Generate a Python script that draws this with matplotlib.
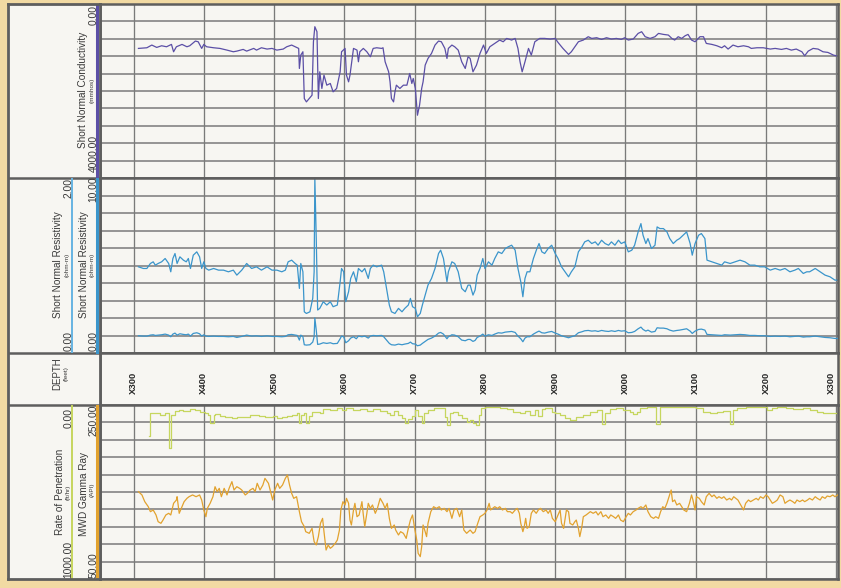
import numpy as np
import matplotlib
matplotlib.use("Agg")
import matplotlib.pyplot as plt

plt.rcParams['font.family'] = ['Liberation Sans', 'DejaVu Sans']

# depth axis (feet, "X" = hidden leading digit)
depth_ticks = list(range(300, 1301, 100))
depth_labels = ["X%03d" % (d % 1000) for d in depth_ticks]

# Short Normal Conductivity (mmhos)
cond_depth = [307, 319, 326, 333, 340, 347, 354, 357, 361, 369, 376, 380, 388, 392, 397, 400, 404, 414,
              423, 433, 442, 447, 456, 461, 471, 475, 482, 490, 497, 504, 513, 518, 525, 530, 535, 536,
              538, 541, 543, 546, 550, 554, 556, 558, 561, 563, 565, 568, 571, 575, 580, 584, 589, 594,
              596, 601, 603, 606, 608, 613, 618, 620, 622, 627, 632, 637, 641, 646, 653, 655, 658, 663,
              665, 667, 670, 672, 674, 679, 684, 689, 693, 696, 698, 701, 704, 707, 710, 712, 715, 719,
              724, 729, 734, 738, 743, 746, 748, 753, 757, 762, 767, 772, 776,
              779, 783, 788, 793, 798, 802, 807, 814, 821, 826, 831, 838, 843, 847, 850, 853, 857, 862,
              866, 871, 878, 885, 893, 900, 904, 911, 919, 923, 928, 933, 940, 947, 952, 959, 966, 973,
              980, 987, 994, 999, 1004, 1011, 1018, 1023, 1028, 1035, 1042, 1047, 1054, 1061, 1066, 1070,
              1075, 1080, 1085, 1089, 1094, 1099, 1106, 1111, 1115, 1123, 1130, 1137, 1141, 1146, 1153,
              1160, 1168, 1175, 1179, 1187, 1196, 1206, 1213, 1222, 1229, 1236, 1243, 1251, 1255, 1260,
              1267, 1274, 1281, 1288, 1296, 1300]
cond_val = [1021, 1006, 944, 998, 960, 983, 929, 1098, 983, 929, 983, 960, 852, 868, 1021, 929, 983, 1006,
            1021, 1060, 1098, 1083, 1044, 1083, 1021, 1060, 1006, 1036, 1021, 1060, 1036, 983, 944, 983, 1021, 1482,
            1175, 1098, 2173, 2250, 2173, 2096, 868, 522, 637, 2173, 1559, 1942, 1635, 1866, 1827, 2019, 1942, 1559,
            1098, 1021, 1635, 1789, 1635, 1021, 1060, 1328, 1098, 1021, 1098, 1213, 1021, 1006, 1021, 1006, 1328, 1559,
            1789, 2173, 2250, 2019, 1866, 1942, 1866, 1866, 1597, 1827, 1712, 1942, 2557, 2326, 1942, 1789, 1405, 1252,
            1136, 944, 852, 868, 1021, 1252, 1021, 944, 983, 1060, 1328, 1482, 1213,
            1252, 1559, 1405, 1136, 944, 1136, 983, 906, 829, 868, 791, 829, 791, 1021, 1328, 1559, 1328, 1021,
            1175, 868, 791, 791, 806, 791, 883, 1021, 1159, 1098, 983, 868, 829, 752, 791, 775, 814, 775,
            806, 791, 814, 775, 829, 806, 676, 637, 752, 791, 752, 676, 699, 714, 791, 829,
            752, 791, 729, 699, 829, 868, 752, 752, 906, 929, 960, 1006, 960, 1036, 944,
            983, 960, 983, 1021, 1006, 1006, 1036, 1021, 1044, 1021, 1060, 1036, 1098, 1190, 1083,
            1021, 1036, 1098, 1113, 1175, 1190]

# Short Normal Resistivity (ohm-m)
res_depth = [307, 314, 319, 324, 328, 331, 335, 340, 345, 350, 353, 356, 359, 362, 366, 371, 375, 378, 381,
             385, 390, 394, 397, 400, 403, 407, 414, 421, 428, 435, 442, 447, 454, 461, 468, 475, 482, 490,
             497, 504, 511, 516, 520, 525, 530, 533, 536, 538, 541, 543, 546, 551, 555, 557, 558, 560, 562,
             565, 570, 575, 580, 584, 590, 594, 596, 599, 602, 606, 609, 613, 617, 620, 625, 629, 634, 637,
             641, 646, 653, 656, 660, 664, 667, 672, 677, 682, 686, 691, 694, 697, 701, 704, 708, 711, 715,
             719, 724, 729, 734, 737, 741, 746, 748, 753, 757, 762, 767, 772, 776,
             779, 783, 786, 789, 793, 797, 800, 805, 810, 814, 819, 824, 829, 833, 838, 843, 847, 851, 854,
             857, 860, 864, 869, 874, 877, 881, 885, 890, 895, 900, 904, 909, 914, 919, 923, 928, 933, 938,
             942, 947, 952, 957, 961, 966, 971, 976, 980, 985, 990, 994, 999, 1004, 1009, 1013, 1018, 1022,
             1025, 1029, 1032, 1037, 1042, 1045, 1049, 1054, 1059, 1063, 1068, 1073, 1077, 1082, 1087, 1092,
             1095, 1099, 1104, 1108, 1113, 1116, 1123, 1130, 1137, 1141, 1149, 1156, 1163, 1170, 1177, 1184,
             1191, 1198, 1206, 1213, 1220, 1227, 1234, 1241, 1246, 1253, 1258, 1262, 1270, 1277, 1284, 1291,
             1298, 1302]
res_val = [0.985, 0.966, 0.966, 1.023, 1.042, 1.004, 1.023, 1.042, 1.080, 1.023, 0.928, 1.080, 1.137, 1.023,
           1.099, 1.061, 1.042, 1.080, 0.966, 1.118, 1.156, 1.099, 0.966, 1.042, 0.966, 0.947, 0.966, 0.947,
           0.947, 0.928, 0.947, 0.890, 0.947, 1.023, 0.966, 0.985, 0.947, 0.985, 0.947, 0.947, 0.928, 0.947,
           1.042, 1.061, 1.023, 1.004, 0.738, 1.023, 0.928, 0.471, 0.452, 0.471, 0.624, 0.928, 2.0, 1.308,
           0.491, 0.510, 0.586, 0.548, 0.586, 0.529, 0.548, 0.814, 0.966, 0.928, 0.586, 0.700, 0.852, 0.928,
           0.814, 0.966, 0.928, 0.966, 0.852, 0.966, 1.004, 0.985, 1.004, 0.928, 0.738, 0.548, 0.471, 0.452,
           0.510, 0.471, 0.510, 0.548, 0.624, 0.529, 0.510, 0.414, 0.452, 0.548, 0.662, 0.776, 0.852, 0.966,
           1.137, 1.175, 1.080, 0.814, 0.928, 1.042, 1.023, 0.928, 0.738, 0.700, 0.776,
           0.776, 0.662, 0.719, 0.890, 0.966, 1.080, 0.966, 1.042, 1.004, 1.080, 1.156, 1.137, 1.194, 1.213,
           1.232, 1.175, 0.966, 0.814, 0.643, 0.852, 0.928, 0.928, 1.080, 1.194, 1.251, 1.156, 1.137, 1.194,
           1.232, 1.137, 1.080, 0.985, 0.928, 0.871, 0.928, 0.985, 1.156, 1.213, 1.270, 1.289, 1.251, 1.270,
           1.232, 1.289, 1.251, 1.232, 1.270, 1.232, 1.289, 1.251, 1.270, 1.156, 1.175, 1.232, 1.384, 1.479,
           1.346, 1.251, 1.308, 1.194, 1.232, 1.441, 1.422, 1.422, 1.384, 1.308, 1.251, 1.289, 1.308, 1.346,
           1.384, 1.251, 1.118, 1.251, 1.346, 1.365, 1.308, 1.061, 1.042, 1.023, 1.004, 1.042, 1.023, 1.042,
           1.061, 1.042, 1.004, 1.004, 0.985, 0.985, 0.947, 0.966, 0.947, 0.966, 0.928, 0.947, 0.966, 0.909,
           0.928, 0.928, 0.966, 0.928, 0.890, 0.871, 0.833, 0.833]

# Rate of Penetration (ft/hr), step curve
rop_depth = [322, 324, 338, 345, 350, 354, 359, 364, 371, 380, 388, 395, 402, 406, 409, 414, 416, 423, 430,
             440, 447, 456, 466, 478, 487, 499, 504, 511, 518, 525, 532, 536, 539, 543, 546, 550, 554, 565,
             570, 580, 589, 596, 603, 613, 622, 632, 641, 651, 660, 665, 670, 677, 682, 686, 691, 696, 701,
             705, 710, 713, 719, 727, 743, 746, 750, 755, 762, 767, 774,
             779, 783, 788, 791, 795, 800, 807, 821, 831, 840, 850, 857, 864, 871, 876, 881, 885, 895, 900,
             907, 914, 921, 930, 940, 949, 959, 966, 971, 978, 987, 997, 1006, 1011, 1016, 1021, 1030, 1044,
             1049, 1101, 1111, 1120, 1130, 1139, 1149, 1153, 1158, 1172, 1201, 1208, 1215, 1229, 1239, 1253,
             1262, 1272, 1281, 1302]
rop_val = [178, 44, 57, 44, 249, 57, 33, 29, 33, 25, 29, 38, 48, 57, 105, 57, 52, 63, 67,
           77, 71, 67, 57, 63, 71, 63, 77, 71, 63, 57, 48, 105, 57, 48, 105, 63, 38, 44,
           25, 29, 19, 29, 19, 29, 25, 33, 25, 33, 48, 57, 33, 57, 77, 102, 82, 63, 29,
           63, 102, 48, 29, 19, 67, 115, 48, 38, 57, 77, 96,
           86, 105, 115, 57, 19, 10, 13, 19, 25, 38, 48, 33, 57, 29, 63, 25, 19, 38, 48,
           57, 77, 86, 67, 57, 38, 29, 109, 44, 25, 19, 29, 38, 52, 38, 19, 13, 109,
           13, 19, 38, 48, 38, 33, 109, 29, 19, 13, 29, 19, 13, 19, 25, 19,
           29, 38, 44, 44]

# MWD Gamma Ray (API)
gr_depth = [307, 312, 316, 321, 324, 328, 332, 335, 339, 342, 346, 350, 353, 357, 361, 362, 365, 369, 372,
            376, 379, 384, 389, 394, 397, 400, 403, 405, 409, 413, 416, 419, 422, 425, 429, 433, 436, 440,
            443, 447, 451, 454, 459, 462, 466, 470, 473, 476, 480, 484, 487, 492, 495, 498, 501, 505, 508,
            512, 516, 519, 522, 525, 528, 532, 536, 539, 543, 545, 550, 554, 557, 560, 563, 566, 569, 571,
            574, 577, 580, 583, 587, 590, 593, 595, 598, 601, 603, 606, 608, 610, 613, 615, 618, 621, 625,
            627, 629, 632, 634, 637, 640, 644, 647, 651, 655, 658, 661, 664, 667, 671, 673, 677, 680, 684,
            688, 691, 694, 697, 700, 703, 705, 708, 710, 712, 715, 717, 719, 723, 727, 731, 735, 738, 742,
            746, 749, 753, 756, 760, 764, 767, 770, 774, 779,
            783, 786, 789, 793, 797, 800, 803, 806, 808, 811, 814, 818, 821, 825, 829, 832, 836, 839, 843,
            846, 849, 851, 854, 856, 858, 860, 863, 866, 869, 873, 876, 879, 883, 887, 890, 893, 896, 900,
            903, 907, 909, 912, 916, 919, 921, 925, 928, 930, 933, 935, 938, 940, 944, 947, 950, 954, 958,
            961, 965, 968, 972, 976, 979, 983, 986, 990, 993, 997, 1001, 1004, 1007, 1011, 1015, 1018, 1022,
            1025, 1029, 1032, 1036, 1040, 1043, 1047, 1050, 1053, 1056, 1059, 1062, 1065, 1067, 1070, 1073,
            1077, 1080, 1083, 1087, 1091, 1094, 1096, 1099, 1101, 1105, 1108, 1112, 1115, 1119, 1123, 1126,
            1130, 1133, 1137, 1140, 1144, 1148, 1151, 1154, 1157, 1160, 1164, 1168, 1171, 1175, 1178, 1182,
            1186, 1189, 1192, 1196, 1200, 1203, 1206, 1209, 1213, 1216, 1220, 1224, 1227, 1230, 1234, 1238,
            1241, 1244, 1248, 1252, 1255, 1259, 1262, 1266, 1270, 1273, 1277, 1280, 1284, 1287, 1291, 1295,
            1298, 1302]
gr_val = [150.4, 146.6, 138.9, 133.1, 127.4, 129.3, 123.6, 115.9, 114.0, 117.8, 123.6, 125.5, 123.6, 137.0,
          140.8, 144.6, 125.5, 133.1, 138.9, 142.7, 144.6, 146.6, 144.6, 146.6, 140.8, 129.3, 121.6, 131.2,
          137.0, 144.6, 156.1, 150.4, 154.2, 144.6, 154.2, 146.6, 154.2, 161.9, 152.3, 156.1, 154.2, 152.3,
          146.6, 148.5, 152.3, 154.2, 150.4, 160.0, 152.3, 158.0, 165.7, 160.0, 150.4, 140.8, 152.3, 160.0,
          154.2, 158.0, 165.7, 169.5, 158.0, 148.5, 142.7, 144.6, 127.4, 115.9, 110.2, 104.4, 102.5, 108.2,
          92.9, 89.1, 98.7, 114.0, 119.7, 104.4, 83.3, 89.1, 85.3, 87.2, 91.0, 94.8, 106.3, 129.3, 138.9,
          135.1, 142.7, 137.0, 117.8, 112.1, 129.3, 137.0, 121.6, 123.6, 138.9, 123.6, 110.2, 125.5, 137.0,
          131.2, 135.1, 125.5, 131.2, 142.7, 137.0, 131.2, 137.0, 119.7, 108.2, 112.1, 106.3, 100.6, 104.4,
          102.5, 96.7, 108.2, 117.8, 123.6, 108.2, 94.8, 79.5, 75.7, 87.2, 112.1, 104.4, 98.7, 114.0, 127.4,
          133.1, 131.2, 133.1, 129.3, 131.2, 127.4, 131.2, 119.7, 129.3, 131.2, 121.6, 129.3, 106.3, 102.5,
          106.3,
          102.5, 104.4, 112.1, 121.6, 123.6, 125.5, 129.3, 137.0, 129.3, 131.2, 133.1, 131.2, 133.1, 129.3,
          131.2, 127.4, 127.4, 125.5, 129.3, 131.2, 125.5, 114.0, 104.4, 110.2, 119.7, 108.2, 110.2, 125.5,
          129.3, 125.5, 129.3, 131.2, 127.4, 129.3, 125.5, 129.3, 119.7, 115.9, 121.6, 129.3, 114.0, 108.2,
          129.3, 127.4, 114.0, 112.1, 115.9, 117.8, 108.2, 98.7, 110.2, 121.6, 123.6, 125.5, 127.4, 125.5,
          127.4, 123.6, 127.4, 121.6, 123.6, 119.7, 123.6, 121.6, 119.7, 123.6, 117.8, 115.9, 121.6, 125.5,
          123.6, 127.4, 129.3, 131.2, 133.1, 131.2, 135.1, 127.4, 121.6, 119.7, 121.6, 119.7, 127.4, 133.1,
          131.2, 137.0, 144.6, 152.3, 138.9, 140.8, 135.1, 137.0, 133.1, 129.3, 127.4, 137.0, 146.6, 140.8,
          129.3, 144.6, 142.7, 138.9, 135.1, 144.6, 148.5, 144.6, 146.6, 142.7, 144.6, 142.7, 144.6, 140.8,
          142.7, 140.8, 144.6, 142.7, 140.8, 135.1, 129.3, 137.0, 140.8, 138.9, 140.8, 142.7, 140.8, 144.6,
          142.7, 146.6, 144.6, 140.8, 137.0, 138.9, 140.8, 146.6, 144.6, 137.0, 138.9, 140.8, 138.9, 137.0,
          140.8, 138.9, 140.8, 138.9, 140.8, 142.7, 140.8, 144.6, 142.7, 140.8, 144.6, 142.7, 145.4, 144.6,
          146.6, 144.6, 146.6]

W, H = 841, 588
BEIGE = "#f2daa3"
PAPER = "#f7f6f2"
FRAME = "#5e5e5e"
GRID = "#7a7a7a"
TXT = "#3a3a3a"
C_COND = "#5b4fa6"
C_RES = "#3b95cb"
C_RES2 = "#67b4e2"
C_ROP = "#c6d65e"
C_GR = "#e2a22e"

fig = plt.figure(figsize=(W / 100, H / 100), dpi=100, facecolor=BEIGE)


def px_axes(x0, y0, x1, y1):
    return fig.add_axes([x0 / W, 1 - y1 / H, (x1 - x0) / W, (y1 - y0) / H])


def style_frame(ax, lw=1.8):
    ax.set_facecolor(PAPER)
    for s in ax.spines.values():
        s.set_color(FRAME)
        s.set_linewidth(lw)


def hide_twin(ax):
    ax.set_yticks([])
    for s in ax.spines.values():
        s.set_visible(False)


X0, X1 = 100, 838
TOP, B1, B2, B3, BOT = 4, 178, 353, 405, 579
xlim = (252.3, 1302.4)


def log_track(y0, y1, lo, hi, invert=False):
    ax = px_axes(X0, y0, X1, y1)
    style_frame(ax)
    ax.set_xlim(*xlim)
    ax.set_ylim((hi, lo) if invert else (lo, hi))
    ax.set_xticks(depth_ticks)
    ax.set_yticks(np.linspace(lo, hi, 11))
    ax.tick_params(length=0, labelbottom=False, labelleft=False)
    ax.grid(True, axis="y", color=GRID, lw=1.1)
    ax.grid(True, axis="x", color=GRID, lw=0.95)
    ax.set_axisbelow(True)
    return ax


# conductivity track
ax1 = log_track(TOP, B1, 0, 4000, invert=True)
ax1.plot(cond_depth, cond_val, color=C_COND, lw=0.9)

# resistivity track (0-2 and 0-10 scales)
ax2 = log_track(B1, B2, 0, 2)
ax2.plot(res_depth, res_val, color=C_RES, lw=0.9)
ax2b = ax2.twinx()
ax2b.set_ylim(0, 10)
hide_twin(ax2b)
ax2b.plot(res_depth, res_val, color=C_RES, lw=0.9)

# depth track
axd = px_axes(X0, B2, X1, B3)
style_frame(axd)
axd.set_xlim(*xlim)
axd.set_ylim(0, 1)
axd.set_xticks([])
axd.set_yticks([])
for d, lab in zip(depth_ticks, depth_labels):
    axd.text(d, 0.42, lab, rotation=90, ha="right" if d == depth_ticks[-1] else "center",
             va="center", fontsize=6.8, fontweight="bold", color="#2a2a2a")

# ROP / gamma ray track
ax3 = log_track(B3, BOT, 0, 1000, invert=True)
ax3.plot(rop_depth, rop_val, color=C_ROP, lw=0.9, drawstyle="steps-post")
ax3b = ax3.twinx()
ax3b.set_ylim(50, 250)
hide_twin(ax3b)
ax3b.plot(gr_depth, gr_val, color=C_GR, lw=0.9)

# header column
axh = px_axes(8, TOP, X0, BOT)
style_frame(axh, lw=2.0)
axh.set_xlim(8, X0)
axh.set_ylim(BOT, TOP)
axh.set_xticks([])
axh.set_yticks([])
for yb in (B1, B2, B3):
    axh.axhline(yb, color=FRAME, lw=1.8)

# scale lines
axh.plot([97.5, 97.5], [TOP + 1, B1 - 1], color=C_COND, lw=2.2)
axh.plot([72, 72], [B1 + 1, B2 - 1], color=C_RES2, lw=1.4)
axh.plot([97.5, 97.5], [B1 + 1, B2 - 1], color=C_RES, lw=2.2)
axh.plot([72, 72], [B3 + 1, BOT - 1], color=C_ROP, lw=1.4)
axh.plot([97.5, 97.5], [B3 + 1, BOT - 1], color=C_GR, lw=2.2)


def htext(x, y, s, size=7.2):
    axh.text(x, y, s, rotation=90, ha="center", va="center", fontsize=size, color=TXT)


htext(83, 90, "Short Normal Conductivity")
htext(92, 90, "(mmhos)", 4.6)
htext(93.5, 15, "0.00", 7.4)
htext(93.5, 153, "4000.00", 7.4)

htext(58, 265, "Short Normal Resistivity")
htext(67, 265, "(ohm-m)", 4.6)
htext(68.5, 188, "2.00", 7.4)
htext(68.5, 341, "0.00", 7.4)
htext(84, 265, "Short Normal Resistivity")
htext(92, 265, "(ohm-m)", 4.6)
htext(93.5, 189, "10.00", 7.4)
htext(93.5, 341, "0.00", 7.4)

htext(57, 374, "DEPTH", 7.0)
htext(66, 374, "(feet)", 4.6)

htext(60, 492, "Rate of Penetration")
htext(68, 492, "(ft/hr)", 4.6)
htext(68.5, 418, "0.00", 7.4)
htext(68.5, 559, "1000.00", 7.4)
htext(84, 494, "MWD Gamma Ray")
htext(92, 490, "(API)", 4.6)
htext(93.5, 420, "250.00", 7.4)
htext(93.5, 565, "50.00", 7.4)

fig.savefig("out.png", dpi=100, facecolor=BEIGE)
